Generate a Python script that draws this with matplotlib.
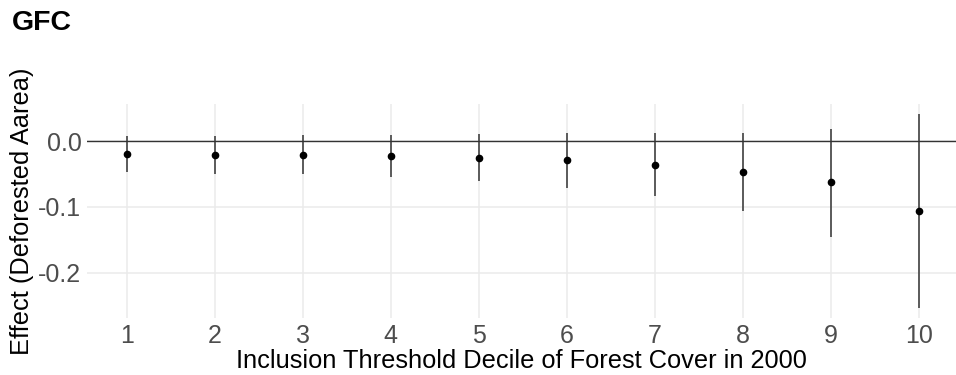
import matplotlib
matplotlib.use("Agg")
import matplotlib.pyplot as plt

plt.rcParams['font.family'] = ['Liberation Sans', 'DejaVu Sans']

deciles = [1, 2, 3, 4, 5, 6, 7, 8, 9, 10]
estimate = [-0.0196, -0.0206, -0.0206, -0.0221, -0.0252, -0.0293, -0.0355, -0.0463, -0.0628, -0.106]
ci_low = [-0.0463, -0.0494, -0.0500, -0.0540, -0.0600, -0.0705, -0.0838, -0.1054, -0.1456, -0.254]
ci_high = [0.0072, 0.0082, 0.0087, 0.0098, 0.0113, 0.0118, 0.0123, 0.0129, 0.0190, 0.0417]
yticks = [0.0, -0.1, -0.2]
ytick_labels = ["0.0", "-0.1", "-0.2"]

W, H = 956, 375
fig = plt.figure(figsize=(W / 100, H / 100), dpi=100)
ax = fig.add_axes([87 / W, 1 - 318 / H, (956 - 87) / W, (318 - 104) / H])

ax.set_xlim(0.55, 10.42)
ax.set_ylim(-0.2688, 0.0565)

for s in ax.spines.values():
    s.set_visible(False)

ax.set_xticks(deciles)
ax.set_xticklabels([str(d) for d in deciles])
ax.set_yticks(yticks)
ax.set_yticklabels(ytick_labels)
ax.tick_params(length=0, labelsize=18, labelcolor='#4D4D4D', pad=4)
ax.grid(True, color='#EBEBEB', linewidth=1.1)
ax.set_axisbelow(True)

ax.axhline(0, color='#333333', linewidth=1.0, zorder=2)
ax.vlines(deciles, ci_low, ci_high, color='#333333', linewidth=1.1, zorder=3)
ax.plot(deciles, estimate, 'o', color='black', markersize=4.5, zorder=4)

ax.set_xlabel('Inclusion Threshold Decile of Forest Cover in 2000', fontsize=18.3, labelpad=1, color='black')
ax.set_ylabel('Effect (Deforested Aarea)', fontsize=18.3, labelpad=3, color='black')

fig.text(12 / W, 1 - 29.5 / H, 'GFC', fontsize=20.5, fontweight='bold', ha='left', va='baseline')

fig.savefig('out.png', dpi=100, facecolor='white')
